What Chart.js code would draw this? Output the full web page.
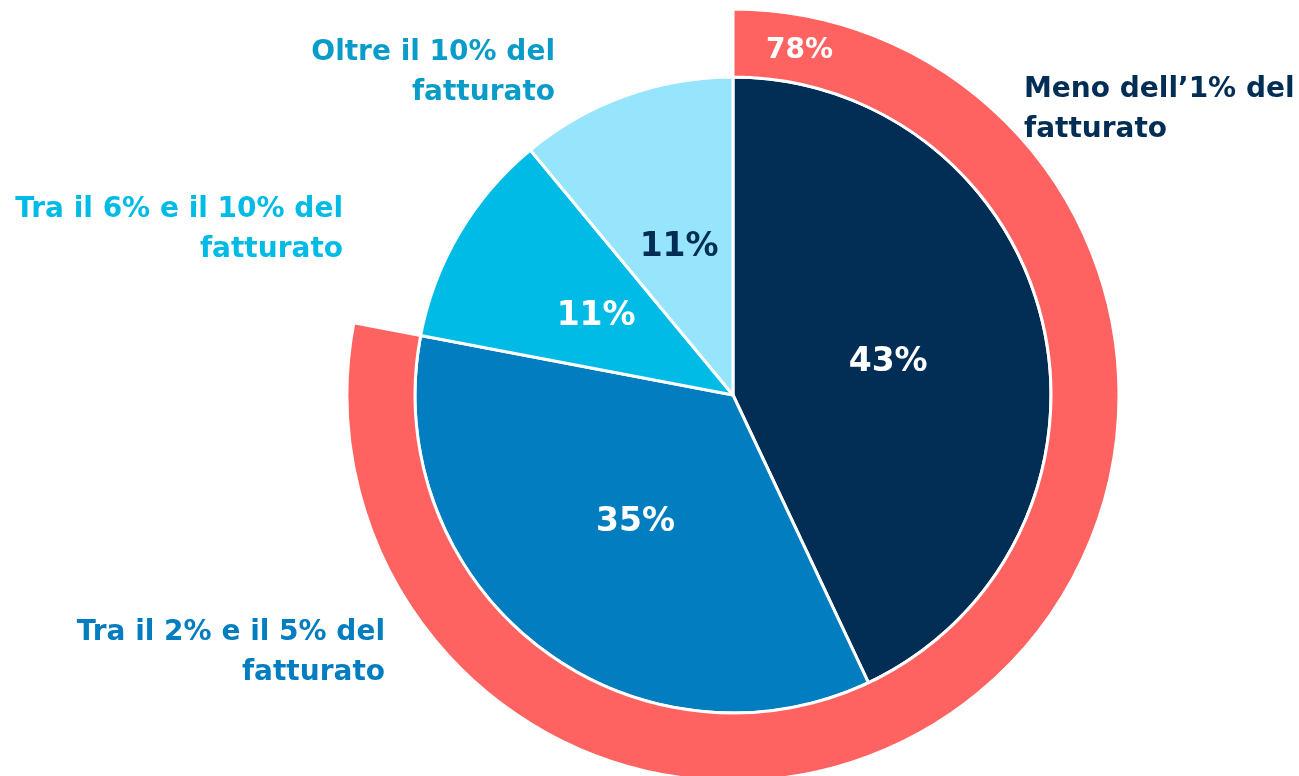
<!DOCTYPE html>
<html>
<head>
<meta charset="utf-8">
<script src="https://cdn.jsdelivr.net/npm/chart.js@4"></script>
<style>
  html, body { margin: 0; padding: 0; background: #ffffff; overflow: hidden; }
  #wrap { width: 1299px; height: 776px; position: relative; }
</style>
</head>
<body>
<div id="wrap"><canvas id="c" width="1299" height="776"></canvas></div>
<script>
// ---- data ----
const categories = ["Meno dell’1% del fatturato", "Tra il 2% e il 5% del fatturato", "Tra il 6% e il 10% del fatturato", "Oltre il 10% del fatturato"];
const categoryLines = [["Meno dell’1% del", "fatturato"], ["Tra il 2% e il 5% del", "fatturato"], ["Tra il 6% e il 10% del", "fatturato"], ["Oltre il 10% del", "fatturato"]];
const shares = [43, 35, 11, 11];
const ringValues = [78, 22];
const ringLabels = ["78%", ""];

// ---- styles ----
const sliceColors = ["#022e55", "#027dc0", "#00bbe6", "#96e5fd"];
const valueLabelColors = ["#ffffff", "#ffffff", "#ffffff", "#022e55"];
const categoryTextColors = ["#022e55", "#027dc0", "#00bbe6", "#0a9cc9"];
const ringColors = ["#ff6361", "rgba(0,0,0,0)"];
const FONT = "'DejaVu Sans', sans-serif";

// label placement (anchor x, first baseline y, alignment)
const categoryPlacement = [
  { x: 1024, y: 97, align: "left" },
  { x: 385, y: 640, align: "right" },
  { x: 343, y: 217, align: "right" },
  { x: 555, y: 60, align: "right" }
];

const labelPlugin = {
  id: "labels",
  afterDraw(chart) {
    const ctx = chart.ctx;
    ctx.save();
    // values inside pie slices
    const pieMeta = chart.getDatasetMeta(1);
    pieMeta.data.forEach((arc, i) => {
      const p = arc.tooltipPosition();
      ctx.font = "bold 33px " + FONT;
      ctx.fillStyle = valueLabelColors[i];
      ctx.textAlign = "center";
      ctx.textBaseline = "middle";
      ctx.fillText(shares[i] + "%", p.x, p.y + 2);
    });
    // ring label near the start of the ring
    const ringMeta = chart.getDatasetMeta(0);
    const arc = ringMeta.data[0];
    const r = (arc.innerRadius + arc.outerRadius) / 2;
    const a = arc.startAngle + 0.19;
    ctx.font = "bold 28px " + FONT;
    ctx.fillStyle = "#ffffff";
    ctx.textAlign = "center";
    ctx.textBaseline = "middle";
    ctx.fillText(ringLabels[0], arc.x + r * Math.cos(a), arc.y + r * Math.sin(a) + 1);
    // category labels
    categoryLines.forEach((lines, i) => {
      const pl = categoryPlacement[i];
      ctx.font = "bold 28px " + FONT;
      ctx.fillStyle = categoryTextColors[i];
      ctx.textAlign = pl.align;
      ctx.textBaseline = "alphabetic";
      lines.forEach((ln, k) => ctx.fillText(ln, pl.x, pl.y + k * 40));
    });
    ctx.restore();
  }
};

new Chart(document.getElementById("c"), {
  type: "doughnut",
  data: {
    labels: categories,
    datasets: [
      {
        data: ringValues,
        backgroundColor: ringColors,
        borderColor: "#ffffff",
        borderWidth: [3, 0],
        weight: 68
      },
      {
        data: shares,
        backgroundColor: sliceColors,
        borderColor: "#ffffff",
        borderWidth: 3,
        weight: 318
      }
    ]
  },
  options: {
    responsive: false,
    animation: false,
    events: [],
    cutout: 0,
    radius: 386,
    layout: { padding: { left: 167, right: 0, top: 14, bottom: 0 } },
    plugins: { legend: { display: false }, tooltip: { enabled: false } }
  },
  plugins: [labelPlugin]
});
</script>
</body>
</html>
